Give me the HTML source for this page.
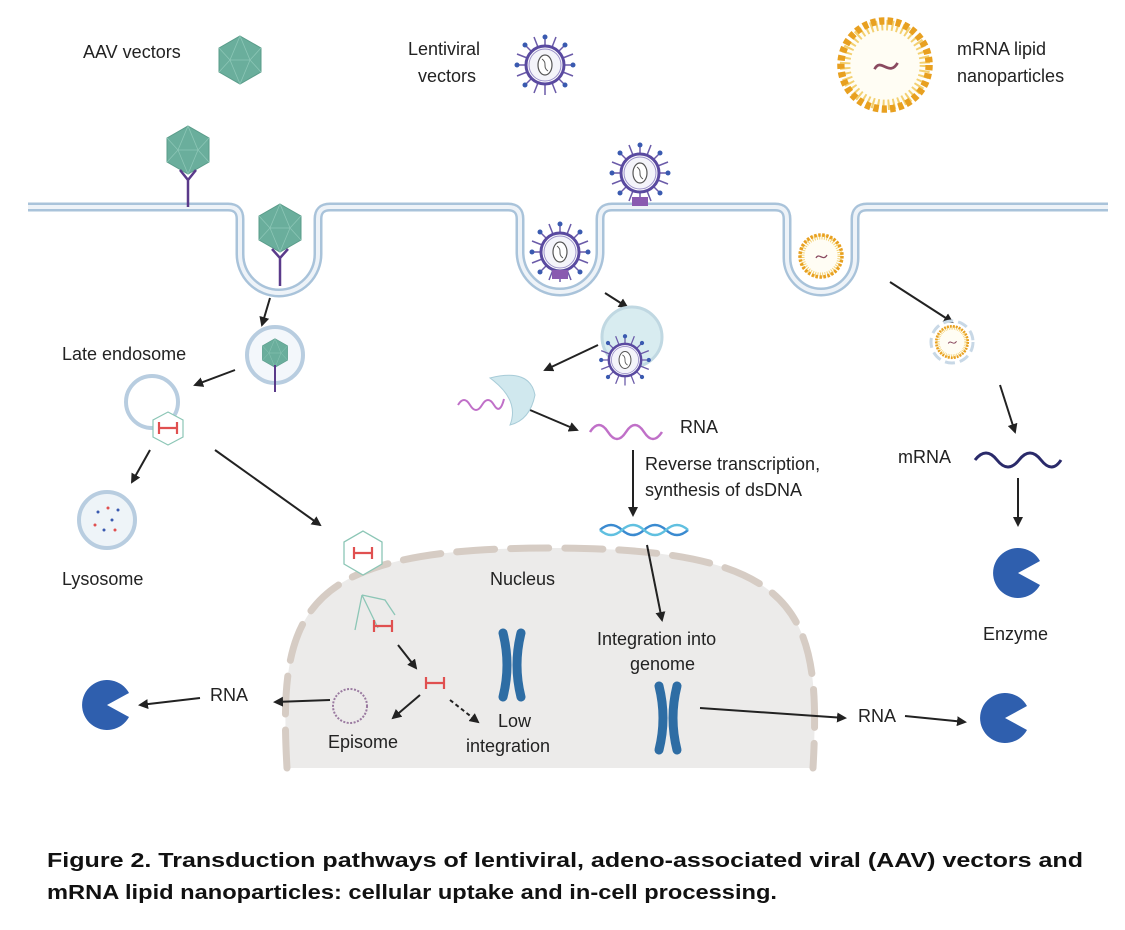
<!DOCTYPE html>
<html><head><meta charset="utf-8"><style>
body{margin:0;background:#fff}
svg{display:block}
text{font-family:"Liberation Sans",sans-serif;font-size:18px;fill:#222}
.cap{font-weight:bold;font-size:20.5px;fill:#111}
</style></head><body>
<svg width="1125" height="930" viewBox="0 0 1125 930" xmlns="http://www.w3.org/2000/svg">
<defs>
<marker id="ah" markerWidth="10" markerHeight="10" refX="8" refY="5" orient="auto" markerUnits="userSpaceOnUse"><path d="M0,0 L10,5 L0,10 z" fill="#222"/></marker>
<g id="hex"><polygon points="0,-24 21,-12 21,12 0,24 -21,12 -21,-12" fill="#6aae9c" stroke="#5a9c8a" stroke-width="1"/><path d="M0,-24 L-10,0 L10,0 Z M-21,-12 L-10,0 M21,-12 L10,0 M-10,0 L0,24 L10,0 M-21,12 L-10,0 M21,12 L10,0" stroke="#8cc6b6" stroke-width="0.8" fill="none"/></g>
<g id="dumb"><path d="M-9,-6 V6 M9,-6 V6 M-9,0 H9" stroke="#e05050" stroke-width="2.2" fill="none"/></g>
<g id="lenti"><g stroke="#6a5aa8" stroke-width="1.5"><line x1="-30" y1="0" x2="30" y2="0"/><line x1="0" y1="-30" x2="0" y2="30"/><line x1="-21" y1="-21" x2="21" y2="21"/><line x1="21" y1="-21" x2="-21" y2="21"/><line x1="-28" y1="-11" x2="28" y2="11"/><line x1="-11" y1="-28" x2="11" y2="28"/><line x1="28" y1="-11" x2="-28" y2="11"/><line x1="11" y1="-28" x2="-11" y2="28"/></g><circle r="19" fill="#fff" stroke="#5a4aa0" stroke-width="3"/><circle r="16" fill="#f4f4fa" stroke="#9a90c8" stroke-width="1"/><ellipse rx="7" ry="10" fill="#fff" stroke="#555" stroke-width="1.2"/><path d="M-3,-6 C3,-2 -3,2 3,6" stroke="#555" fill="none"/><g fill="#3a5ab0"><circle cx="0" cy="-28" r="2.5"/><circle cx="20" cy="-20" r="2.5"/><circle cx="28" cy="0" r="2.5"/><circle cx="-20" cy="20" r="2.5"/><circle cx="-28" cy="0" r="2.5"/><circle cx="-20" cy="-20" r="2.5"/><circle cx="20" cy="20" r="2.5"/></g></g>
<g id="lnp"><circle r="19" fill="#fffdf4" stroke="#f3d070" stroke-width="5" stroke-dasharray="1 1.5"/><circle r="21" fill="none" stroke="#e8a020" stroke-width="3.5" stroke-dasharray="2.5 1.5"/><path d="M-5,2 C-2,-4 2,6 6,-1" stroke="#8a4a60" stroke-width="1.3" fill="none"/></g>
<g id="chrom"><path d="M-9,-32 Q-1,0 -9,32 M9,-32 Q1,0 9,32" stroke="#2e6da4" stroke-width="9" stroke-linecap="round" fill="none"/></g>
<g id="pac"><path d="M0,0 L22,-12 A25,25 0 1 0 22,12 Z" fill="#2f5fae"/></g>
</defs>

<!-- nucleus -->
<path d="M287,768 C278,610 300,548 550,548 C800,548 822,610 813,768" fill="#ecebea"/>
<path d="M287,768 C278,610 300,548 550,548 C800,548 822,610 813,768" fill="none" stroke="#d6ccc4" stroke-width="7" stroke-dasharray="38 16" stroke-linecap="round"/>

<!-- legend -->
<text x="83" y="58">AAV vectors</text>
<use href="#hex" x="240" y="60"/>
<text x="408" y="55">Lentiviral</text><text x="418" y="82">vectors</text>
<use href="#lenti" x="545" y="65"/>
<g transform="translate(885,65) scale(2.1)"><use href="#lnp"/></g>
<text x="957" y="55">mRNA lipid</text><text x="957" y="82">nanoparticles</text>

<!-- membrane -->
<g fill="none">
<path d="M28,207 H228 Q240,207 240,219 V254 A39,39 0 0 0 318,254 V219 Q318,207 330,207 H508 Q520,207 520,219 V252 A40,40 0 0 0 600,252 V219 Q600,207 612,207 H775 Q787,207 787,219 V258 A34,34 0 0 0 855,258 V219 Q855,207 867,207 H1108" stroke="#a9c3da" stroke-width="9"/>
<path d="M28,207 H228 Q240,207 240,219 V254 A39,39 0 0 0 318,254 V219 Q318,207 330,207 H508 Q520,207 520,219 V252 A40,40 0 0 0 600,252 V219 Q600,207 612,207 H775 Q787,207 787,219 V258 A34,34 0 0 0 855,258 V219 Q855,207 867,207 H1108" stroke="#eef3f8" stroke-width="4"/>
</g>
<use href="#hex" x="188" y="150"/>
<path d="M188,207 V180 M180,170 L188,180 L196,170" stroke="#5a3a8a" stroke-width="2.5" fill="none"/>
<use href="#hex" x="280" y="228"/>
<path d="M280,286 V258 M272,249 L280,258 L288,249" stroke="#5a3a8a" stroke-width="2.5" fill="none"/>
<use href="#lenti" x="640" y="173"/>
<rect x="632" y="197" width="16" height="9" fill="#8a5ab0"/>
<use href="#lenti" x="560" y="252"/>
<rect x="552" y="270" width="16" height="9" fill="#8a5ab0"/>
<use href="#lnp" x="821" y="256"/>

<g stroke="#222" stroke-width="2" fill="none" marker-end="url(#ah)">
<line x1="270" y1="298" x2="262" y2="325"/>
<line x1="235" y1="370" x2="195" y2="385"/>
<line x1="150" y1="450" x2="132" y2="482"/>
<line x1="215" y1="450" x2="320" y2="525"/>
<line x1="605" y1="293" x2="627" y2="307"/>
<line x1="598" y1="345" x2="545" y2="370"/>
<line x1="530" y1="410" x2="577" y2="430"/>
<line x1="633" y1="450" x2="633" y2="515"/>
<line x1="647" y1="545" x2="662" y2="620"/>
<line x1="890" y1="282" x2="952" y2="322"/>
<line x1="1000" y1="385" x2="1015" y2="432"/>
<line x1="1018" y1="478" x2="1018" y2="525"/>
<line x1="398" y1="645" x2="416" y2="668"/>
<line x1="420" y1="695" x2="393" y2="718"/>
<line x1="700" y1="708" x2="845" y2="718"/>
<line x1="905" y1="716" x2="965" y2="722"/>
<line x1="330" y1="700" x2="275" y2="702"/>
<line x1="200" y1="698" x2="140" y2="705"/>
</g>
<line x1="450" y1="700" x2="478" y2="722" stroke="#222" stroke-width="2" stroke-dasharray="4 3" marker-end="url(#ah)"/>

<circle cx="275" cy="355" r="28" fill="#f3f7fb" stroke="#b8cde0" stroke-width="4"/>
<g transform="translate(275,353) scale(0.6)"><use href="#hex"/></g>
<line x1="275" y1="365" x2="275" y2="392" stroke="#5a3a8a" stroke-width="2"/>
<text x="62" y="360">Late endosome</text>
<circle cx="152" cy="402" r="26" fill="#fff" stroke="#b8cde0" stroke-width="4"/>
<polygon points="168,412 183,420 183,437 168,445 153,437 153,420" fill="#fff" stroke="#8cc6b6" stroke-width="1.2"/>
<use href="#dumb" x="168" y="428"/>
<circle cx="107" cy="520" r="28" fill="#eef4f8" stroke="#b8cde0" stroke-width="4"/>
<g fill="#3a5ab0"><circle cx="98" cy="512" r="1.5"/><circle cx="112" cy="520" r="1.5"/><circle cx="104" cy="530" r="1.5"/><circle cx="118" cy="510" r="1.5"/></g>
<g fill="#e05050"><circle cx="95" cy="525" r="1.5"/><circle cx="115" cy="530" r="1.5"/><circle cx="108" cy="508" r="1.5"/></g>
<text x="62" y="585">Lysosome</text>

<circle cx="632" cy="337" r="30" fill="#d8ecf0" stroke="#c0d8e2" stroke-width="3"/>
<g transform="translate(625,360) scale(0.85)"><use href="#lenti"/></g>
<path d="M490,378 Q530,368 535,395 Q530,420 510,425 Q520,400 490,378 Z" fill="#d0e8ee" stroke="#a8ccd8"/>
<path d="M458,405 q6,-10 12,0 t12,0 t12,0 t10,-6" stroke="#c070c8" stroke-width="2" fill="none"/>
<path d="M590,432 q9,-14 18,0 t18,0 t18,0 t18,0" stroke="#c070c8" stroke-width="2.5" fill="none"/>
<text x="680" y="433">RNA</text>
<text x="645" y="470">Reverse transcription,</text>
<text x="645" y="496">synthesis of dsDNA</text>
<path d="M600,530 q11,-10 22,0 t22,0 t22,0 t22,0" stroke="#3a8ad0" stroke-width="2.5" fill="none"/>
<path d="M600,530 q11,10 22,0 t22,0 t22,0 t22,0" stroke="#60c0e0" stroke-width="2.5" fill="none"/>

<circle cx="952" cy="342" r="21" fill="none" stroke="#c8d8e6" stroke-width="3" stroke-dasharray="10 5"/>
<g transform="translate(952,342) scale(0.75)"><use href="#lnp"/></g>
<text x="898" y="463">mRNA</text>
<path d="M975,460 q11,-14 22,0 t22,0 t22,0 t20,0" stroke="#2a2a6a" stroke-width="3" fill="none"/>
<use href="#pac" x="1018" y="573"/>
<text x="983" y="640">Enzyme</text>

<text x="490" y="585">Nucleus</text>
<polygon points="363,531 382,542 382,564 363,575 344,564 344,542" fill="#fff" stroke="#8cc6b6" stroke-width="1.3"/>
<use href="#dumb" x="363" y="553"/>
<path d="M362,595 L385,600 L395,615 M362,595 L355,630 M362,595 L378,628" stroke="#8cc6b6" stroke-width="1.3" fill="none"/>
<use href="#dumb" x="383" y="626"/>
<use href="#dumb" x="435" y="683"/>
<circle cx="350" cy="706" r="17" fill="none" stroke="#9a7aa0" stroke-width="2" stroke-dasharray="2 1.5"/>
<text x="328" y="748">Episome</text>
<text x="498" y="727">Low</text>
<text x="466" y="752">integration</text>
<use href="#chrom" x="512" y="665"/>
<text x="597" y="645">Integration into</text>
<text x="630" y="670">genome</text>
<use href="#chrom" x="668" y="718"/>
<text x="858" y="722">RNA</text>
<use href="#pac" x="1005" y="718"/>
<text x="210" y="701">RNA</text>
<use href="#pac" x="107" y="705"/>

<text class="cap" x="47" y="867" textLength="1036" lengthAdjust="spacingAndGlyphs">Figure 2. Transduction pathways of lentiviral, adeno-associated viral (AAV) vectors and</text>
<text class="cap" x="47" y="899" textLength="730" lengthAdjust="spacingAndGlyphs">mRNA lipid nanoparticles: cellular uptake and in-cell processing.</text>
</svg>
</body></html>
